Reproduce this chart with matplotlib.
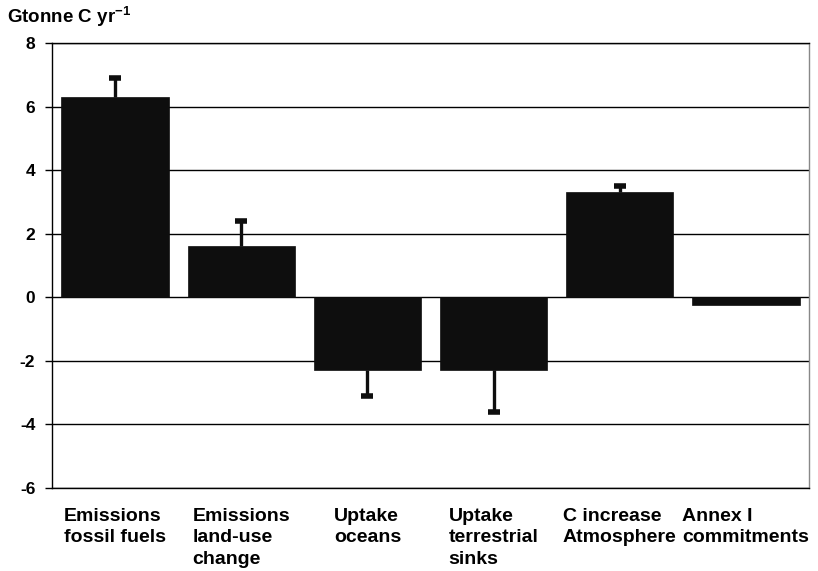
import matplotlib
matplotlib.use("Agg")
import matplotlib.pyplot as plt
import numpy as np

# Global carbon budget components (Gt C per year)
categories = [
    "Emissions\nfossil fuels",
    "Emissions\nland-use\nchange",
    "Uptake\noceans",
    "Uptake\nterrestrial\nsinks",
    "C increase\nAtmosphere",
    "Annex I\ncommitments",
]
values = [6.3, 1.6, -2.3, -2.3, 3.3, -0.25]
uncertainty = [0.6, 0.8, 0.8, 1.3, 0.2, 0.0]
y_ticks = [-6, -4, -2, 0, 2, 4, 6, 8]

plt.rcParams["font.family"] = ["Liberation Sans", "DejaVu Sans"]
plt.rcParams["font.weight"] = "bold"
plt.rcParams["mathtext.fontset"] = "custom"
plt.rcParams["mathtext.rm"] = "Liberation Sans:bold"
plt.rcParams["mathtext.bf"] = "Liberation Sans:bold"

W, H = 818, 571
fig = plt.figure(figsize=(W / 100, H / 100), dpi=100)
ax = fig.add_axes([52 / W, 1 - 488 / H, (809 - 52) / W, (488 - 43) / H])

x = np.arange(len(categories))
dark = "#0e0e0e"
ax.bar(x, values, width=0.85, color=dark, edgecolor=dark,
       linewidth=0.5, zorder=3)

# one-sided error bars pointing away from zero, cap only at the far end
vals = np.array(values)
err = np.array(uncertainty)
ends = vals + np.sign(vals) * err
mask = err > 0
ax.vlines(x[mask], vals[mask], ends[mask], color=dark, linewidth=2.4, zorder=4)
ax.plot(x[mask], ends[mask], linestyle="none", marker="_", markersize=9,
        markeredgewidth=4, color=dark, zorder=4)

ax.set_xlim(-0.5, len(categories) - 0.5)
ax.set_ylim(-6, 8)
ax.set_yticks(y_ticks)
ax.set_yticklabels([str(t) for t in y_ticks], fontsize=12.5, fontweight="bold")
for t in y_ticks:
    ax.axhline(t, color="black", linewidth=1.0, zorder=1)

ax.set_xticks([])
ax.tick_params(axis="y", direction="out", length=5, width=1, pad=7)
for side in ["left", "right", "top", "bottom"]:
    ax.spines[side].set_linewidth(1.0)
ax.spines["right"].set_color("#888888")

for xi, label in zip(x, categories):
    ax.text(xi, -6.62, label, ha="center", va="top", multialignment="left",
            fontsize=14, fontweight="bold", linespacing=1.35,
            transform=ax.transData)

fig.text(7 / W, 1 - 17 / H, r"Gtonne C yr$^{\mathbf{-1}}$", ha="left",
         va="center", fontsize=13.5, fontweight="bold")

fig.savefig("out.png", dpi=100, facecolor="white")
